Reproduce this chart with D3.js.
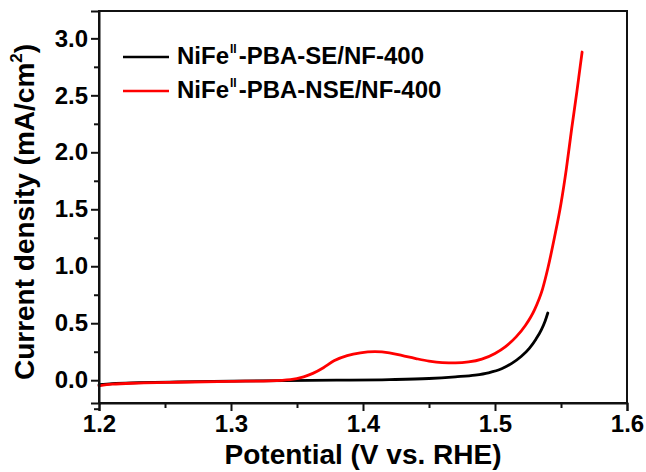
<!DOCTYPE html>
<html>
<head>
<meta charset="utf-8">
<script src="https://cdn.jsdelivr.net/npm/d3@7"></script>
<style>
  html, body { margin: 0; padding: 0; background: #fff; }
  svg { display: block; }
  text { font-family: "Liberation Sans", Arial, sans-serif; font-weight: bold; fill: #000; }
</style>
</head>
<body>
<svg id="chart" width="646" height="472"></svg>
<script>
// LSV data: potential (V vs. RHE) and current density (mA/cm2)
const potentialSE = [1.200, 1.210, 1.230, 1.260, 1.300, 1.340, 1.380, 1.420, 1.450, 1.470, 1.485, 1.495, 1.505, 1.513, 1.520, 1.526, 1.531, 1.535, 1.538, 1.540];
const currentSE   = [-0.040, -0.030, -0.022, -0.015, -0.008, -0.003, 0.000, 0.005, 0.015, 0.030, 0.045, 0.065, 0.100, 0.150, 0.210, 0.280, 0.360, 0.440, 0.520, 0.590];

const potentialNSE = [1.200, 1.210, 1.230, 1.260, 1.300, 1.330, 1.345, 1.355, 1.362, 1.370, 1.378, 1.388, 1.398, 1.409, 1.420, 1.430, 1.440, 1.450, 1.460, 1.470, 1.480, 1.490, 1.500, 1.508, 1.516, 1.523, 1.530, 1.536, 1.540, 1.545, 1.550, 1.554, 1.558, 1.562, 1.5645, 1.566];
const currentNSE   = [-0.050, -0.035, -0.025, -0.018, -0.010, -0.005, 0.005, 0.030, 0.060, 0.110, 0.170, 0.215, 0.240, 0.250, 0.240, 0.215, 0.190, 0.168, 0.155, 0.152, 0.160, 0.185, 0.235, 0.295, 0.380, 0.480, 0.620, 0.800, 0.980, 1.250, 1.550, 1.850, 2.200, 2.530, 2.750, 2.880];

const xTicks = [1.2, 1.3, 1.4, 1.5, 1.6];
const xMinorTicks = [1.25, 1.35, 1.45, 1.55];
const yTicks = [0.0, 0.5, 1.0, 1.5, 2.0, 2.5, 3.0];
const yMinorTicks = [-0.25, 0.25, 0.75, 1.25, 1.75, 2.25, 2.75];

const seriesNames = ["NiFe", "NiFe"];
const seriesSuffix = ["-PBA-SE/NF-400", "-PBA-NSE/NF-400"];
const seriesColors = ["#000000", "#ff0000"];

const svg = d3.select("#chart");
const margin = { left: 99, right: 19, top: 11, bottom: 69 };
const W = 646, H = 472;
const x = d3.scaleLinear().domain([1.2, 1.6]).range([margin.left, W - margin.right]);
const y = d3.scaleLinear().domain([-0.2, 3.24]).range([H - margin.bottom, margin.top]);

// curves
const line = d3.line().x(d => x(d[0])).y(d => y(d[1])).curve(d3.curveMonotoneX);
const seriesData = [
  d3.zip(potentialSE, currentSE),
  d3.zip(potentialNSE, currentNSE)
];
// red drawn after black so it sits on top where they overlap
[0, 1].forEach(i => {
  svg.append("path")
    .datum(seriesData[i])
    .attr("d", line)
    .attr("fill", "none")
    .attr("stroke", seriesColors[i])
    .attr("stroke-width", 2.8)
    .attr("stroke-linejoin", "round")
    .attr("stroke-linecap", "round");
});

// frame
svg.append("rect")
  .attr("x", x(1.2)).attr("y", y(3.24))
  .attr("width", x(1.6) - x(1.2)).attr("height", y(-0.2) - y(3.24))
  .attr("fill", "none").attr("stroke", "#111").attr("stroke-width", 2);

// x axis
svg.append("g").attr("transform", `translate(0,${y(-0.2)})`)
  .call(d3.axisBottom(x).tickValues(xTicks).tickFormat(d3.format(".1f")).tickSize(8).tickPadding(4));
svg.append("g").attr("transform", `translate(0,${y(-0.2)})`)
  .call(d3.axisBottom(x).tickValues(xMinorTicks).tickFormat("").tickSize(5))
  .call(g => g.select(".domain").remove());

// y axis
svg.append("g").attr("transform", `translate(${x(1.2)},0)`)
  .call(d3.axisLeft(y).tickValues(yTicks).tickFormat(d3.format(".1f")).tickSize(8).tickPadding(3));
svg.append("g").attr("transform", `translate(${x(1.2)},0)`)
  .call(d3.axisLeft(y).tickValues(yMinorTicks).tickFormat("").tickSize(5))
  .call(g => g.select(".domain").remove());

svg.selectAll(".domain").attr("stroke", "#111").attr("stroke-width", 2);
svg.selectAll(".tick line").attr("stroke", "#111").attr("stroke-width", 2);
svg.selectAll(".tick text").style("font-size", "24px").style("font-weight", "bold")
  .style("font-family", "'Liberation Sans', Arial, sans-serif").attr("fill", "#000");

// axis titles
svg.append("text")
  .attr("x", (x(1.2) + x(1.6)) / 2).attr("y", 464)
  .attr("text-anchor", "middle").style("font-size", "28px")
  .text("Potential (V vs. RHE)");

const yt = svg.append("text")
  .attr("transform", `translate(34,212) rotate(-90)`)
  .attr("text-anchor", "middle").style("font-size", "28px");
yt.append("tspan").text("Current density (mA/cm");
yt.append("tspan").attr("dy", -12).style("font-size", "17px").text("2");
yt.append("tspan").attr("dy", 12).text(")");

// legend
const legendY = [57, 91];
[0, 1].forEach(i => {
  svg.append("line")
    .attr("x1", 123).attr("x2", 169)
    .attr("y1", legendY[i]).attr("y2", legendY[i])
    .attr("stroke", seriesColors[i]).attr("stroke-width", 2.5);
  const t = svg.append("text")
    .attr("x", 177).attr("y", legendY[i] + 7)
    .style("font-size", "24px");
  t.append("tspan").text(seriesNames[i]);
  t.append("tspan").attr("dx", 1).attr("dy", -11).style("font-size", "12px").text("II");
  t.append("tspan").attr("dx", 2).attr("dy", 11).text(seriesSuffix[i]);
});
</script>
</body>
</html>
